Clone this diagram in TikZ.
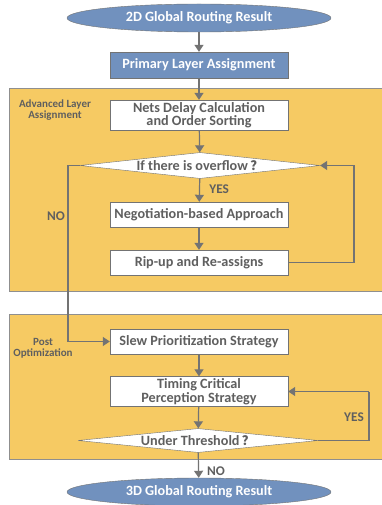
\documentclass[tikz,border=0pt]{standalone}
\usepackage{fontspec}
\setmainfont{Carlito}
\newfontfamily\cjkfont{Noto Sans CJK SC}[Scale=0.92]
\usetikzlibrary{shapes.geometric,arrows.meta}
\definecolor{stepblue}{HTML}{7191BE}
\definecolor{regionyellow}{HTML}{F6CA63}
\definecolor{linegray}{HTML}{737373}
\definecolor{textgray}{HTML}{5F5F5F}
\newcommand{\fwq}{\,{\cjkfont ？}}
\tikzset{
  flow/.style={draw=linegray, line width=1.2pt, -{Triangle[length=7pt,width=9pt]}},
  plain/.style={draw=linegray, line width=1.2pt},
  terminal/.style={ellipse, draw=linegray, fill=stepblue, text=white, font=\bfseries\fontsize{14.2}{14}\selectfont,
    minimum width=264pt, minimum height=28pt, inner sep=0pt},
  bluebox/.style={draw=linegray, fill=stepblue, text=white, font=\bfseries\fontsize{14.2}{14}\selectfont,
    minimum width=178pt, minimum height=26pt, inner sep=0pt},
  whitebox/.style={draw=linegray, fill=white, text=textgray, font=\bfseries\fontsize{14.2}{13.5}\selectfont,
    minimum width=178pt, minimum height=25pt, inner sep=0pt, align=center},
  decision/.style={diamond, aspect=9.2, draw=linegray, fill=white, text=textgray,
    font=\bfseries\fontsize{14.2}{14}\selectfont, inner sep=0pt, minimum width=240pt, minimum height=26pt},
  region/.style={draw=linegray!80, fill=regionyellow, line width=1pt},
  regionlabel/.style={text=textgray, font=\bfseries\fontsize{11}{11}\selectfont, align=center},
  edgelabel/.style={text=textgray, font=\bfseries\fontsize{13.3}{14}\selectfont},
}
\begin{document}
\begin{tikzpicture}[x=1pt,y=-1pt]
\useasboundingbox (0,0) rectangle (381,505);
\fill[white] (0,0) rectangle (381,505);

% background groups
\draw[region] (9,89) rectangle (385,291);
\draw[region] (9,314) rectangle (385,459);
\node[regionlabel] (advlabel) at (55,110) {Advanced Layer\\Assignment};
\node[regionlabel] (postlabel) at (43,348) {Post\\Optimization};

% steps
\node[terminal] (start) at (199,18) {2D Global Routing Result};
\node[bluebox] (primary) at (199,65) {Primary Layer Assignment};
\node[whitebox, minimum height=30pt] (nets) at (199,115) {Nets Delay Calculation\\and Order Sorting};
\node[decision] (overflow) at (200,165.5) {If there is overflow\fwq};
\node[whitebox] (nego) at (199,214.5) {Negotiation-based Approach};
\node[whitebox] (ripup) at (199,262.5) {Rip-up and Re-assigns};
\node[whitebox] (slew) at (199,341.5) {Slew Prioritization Strategy};
\node[whitebox, minimum height=30pt] (timing) at (199,391.5) {Timing Critical\\Perception Strategy};
\node[decision, minimum height=24pt] (thresh) at (198,440.5) {Under Threshold\fwq};
\node[terminal] (finish) at (199,492) {3D Global Routing Result};

% loop corners
\coordinate (ripcorner) at (354,262.5);
\coordinate (ovcorner) at (354,165.5);
\coordinate (nocorner) at (68,165.5);
\coordinate (nobottom) at (68,341.5);
\coordinate (thcorner) at (369,440.5);
\coordinate (tmcorner) at (369,391.5);

% connectors
\draw[flow] (start) -- (primary);
\draw[flow] (primary) -- (nets);
\draw[flow] (nets) -- (overflow);
\draw[flow] (overflow) -- node[edgelabel, right=6pt, pos=0.45] (yes1) {YES} (nego);
\draw[flow] (nego) -- (ripup);
\draw[flow] (ripup.east) -- (ripcorner) -- (ovcorner) -- (overflow.east);
\draw[plain] (overflow.west) -- (nocorner) -- (nobottom);
\draw[flow] (nobottom) -- (slew.west);
\node[edgelabel] (no1) at (56,216) {NO};
\draw[flow] (slew) -- (timing);
\draw[flow] (timing) -- (thresh);
\draw[plain] (thresh.east) -- (thcorner) -- (tmcorner);
\draw[flow] (tmcorner) -- (timing.east);
\node[edgelabel] (yes2) at (354,417) {YES};
\draw[flow] (thresh) -- (finish);
\node[edgelabel] (no2) at (216,471) {NO};
\end{tikzpicture}
\end{document}
